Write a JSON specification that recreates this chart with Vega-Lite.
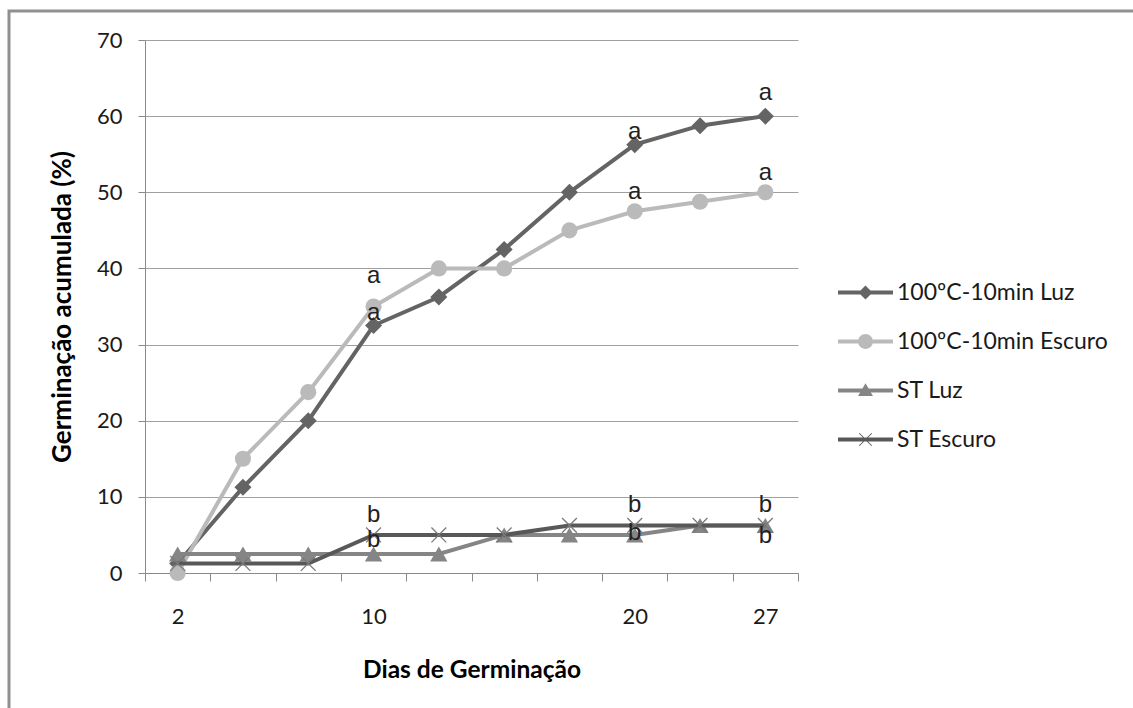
{
  "$schema": "https://vega.github.io/schema/vega-lite/v6.json",
  "usermeta": {"embedOptions": {"actions": false}},
  "autosize": {"type": "none"},
  "padding": {"left": 9, "top": 11, "right": 0, "bottom": 0},
  "width": 1124,
  "height": 697,
  "background": "white",
  "config": {
    "view": {"stroke": "#909090", "strokeWidth": 3, "strokeDash": [1124, 1821, 700]},
    "font": "Lato"
  },
  "data": {
    "values": [
      {"day": 2, "series": "100ºC-10min Luz", "value": 1.25, "label": ""},
      {"day": 4, "series": "100ºC-10min Luz", "value": 11.25, "label": ""},
      {"day": 7, "series": "100ºC-10min Luz", "value": 20, "label": ""},
      {"day": 10, "series": "100ºC-10min Luz", "value": 32.5, "label": "a"},
      {"day": 12, "series": "100ºC-10min Luz", "value": 36.25, "label": ""},
      {"day": 14, "series": "100ºC-10min Luz", "value": 42.5, "label": ""},
      {"day": 17, "series": "100ºC-10min Luz", "value": 50, "label": ""},
      {"day": 20, "series": "100ºC-10min Luz", "value": 56.25, "label": "a"},
      {"day": 24, "series": "100ºC-10min Luz", "value": 58.75, "label": ""},
      {"day": 27, "series": "100ºC-10min Luz", "value": 60, "label": "a"},
      {"day": 2, "series": "100ºC-10min Escuro", "value": 0, "label": ""},
      {"day": 4, "series": "100ºC-10min Escuro", "value": 15, "label": ""},
      {"day": 7, "series": "100ºC-10min Escuro", "value": 23.75, "label": ""},
      {"day": 10, "series": "100ºC-10min Escuro", "value": 35, "label": "a"},
      {"day": 12, "series": "100ºC-10min Escuro", "value": 40, "label": ""},
      {"day": 14, "series": "100ºC-10min Escuro", "value": 40, "label": ""},
      {"day": 17, "series": "100ºC-10min Escuro", "value": 45, "label": ""},
      {"day": 20, "series": "100ºC-10min Escuro", "value": 47.5, "label": "a"},
      {"day": 24, "series": "100ºC-10min Escuro", "value": 48.75, "label": ""},
      {"day": 27, "series": "100ºC-10min Escuro", "value": 50, "label": "a"},
      {"day": 2, "series": "ST Luz", "value": 2.5, "label": ""},
      {"day": 4, "series": "ST Luz", "value": 2.5, "label": ""},
      {"day": 7, "series": "ST Luz", "value": 2.5, "label": ""},
      {"day": 10, "series": "ST Luz", "value": 2.5, "label": "b"},
      {"day": 12, "series": "ST Luz", "value": 2.5, "label": ""},
      {"day": 14, "series": "ST Luz", "value": 5, "label": ""},
      {"day": 17, "series": "ST Luz", "value": 5, "label": ""},
      {"day": 20, "series": "ST Luz", "value": 5, "label": "b"},
      {"day": 24, "series": "ST Luz", "value": 6.25, "label": ""},
      {"day": 27, "series": "ST Luz", "value": 6.25, "label": "b"},
      {"day": 2, "series": "ST Escuro", "value": 1.25, "label": ""},
      {"day": 4, "series": "ST Escuro", "value": 1.25, "label": ""},
      {"day": 7, "series": "ST Escuro", "value": 1.25, "label": ""},
      {"day": 10, "series": "ST Escuro", "value": 5, "label": "b"},
      {"day": 12, "series": "ST Escuro", "value": 5, "label": ""},
      {"day": 14, "series": "ST Escuro", "value": 5, "label": ""},
      {"day": 17, "series": "ST Escuro", "value": 6.25, "label": ""},
      {"day": 20, "series": "ST Escuro", "value": 6.25, "label": "b"},
      {"day": 24, "series": "ST Escuro", "value": 6.25, "label": ""},
      {"day": 27, "series": "ST Escuro", "value": 6.25, "label": "b"}
    ]
  },
  "encoding": {
    "x": {
      "field": "day", "type": "ordinal",
      "scale": {"range": [136, 789], "paddingInner": 0, "paddingOuter": 0},
      "axis": {
        "orient": "bottom", "offset": -135,
        "tickBand": "extent", "grid": false,
        "domainColor": "#8a8a8a", "domainWidth": 1,
        "tickColor": "#8a8a8a", "tickSize": 8, "tickWidth": 1,
        "labelAngle": 0, "labelFont": "Lato", "labelFontSize": 22, "labelColor": "#1a1a1a",
        "labelBaseline": "alphabetic", "labelPadding": 42,
        "labelExpr": "indexof(['2','10','20','27'], datum.label) >= 0 ? datum.label : ''",
        "title": "Dias de Germinação", "titleFont": "Lato", "titleFontSize": 24.5, "titleFontWeight": "bold",
        "titleColor": "#000000", "titleBaseline": "alphabetic", "titleY": 104
      }
    },
    "y": {
      "field": "value", "type": "quantitative",
      "scale": {"domain": [0, 70], "range": [562, 29], "nice": false, "zero": true},
      "axis": {
        "orient": "left", "offset": -136,
        "values": [0, 10, 20, 30, 40, 50, 60, 70],
        "grid": true, "gridColor": "#a0a0a0", "gridWidth": 1,
        "domainColor": "#8a8a8a", "domainWidth": 1,
        "tickColor": "#8a8a8a", "tickSize": 7, "tickWidth": 1,
        "labelFont": "Lato", "labelFontSize": 22, "labelColor": "#1a1a1a", "labelPadding": 16,
        "title": "Germinação acumulada (%)", "titleFont": "Lato", "titleFontSize": 26, "titleFontWeight": "bold",
        "titleColor": "#000000", "titleBaseline": "alphabetic", "titleX": -75
      }
    }
  },
  "layer": [
    {
      "transform": [{"filter": "datum.series == '100ºC-10min Luz'"}],
      "mark": {"type": "line", "color": "#646464", "strokeWidth": 4,
        "point": {"shape": "diamond", "size": 290, "filled": true, "color": "#646464", "opacity": 1}}
    },
    {
      "transform": [{"filter": "datum.series == '100ºC-10min Escuro'"}],
      "mark": {"type": "line", "color": "#bababa", "strokeWidth": 4,
        "point": {"shape": "circle", "size": 260, "filled": true, "color": "#bababa", "opacity": 1}}
    },
    {
      "transform": [{"filter": "datum.series == 'ST Luz'"}],
      "mark": {"type": "line", "color": "#858585", "strokeWidth": 4,
        "point": {"shape": "triangle-up", "size": 300, "filled": true, "color": "#858585", "opacity": 1}}
    },
    {
      "transform": [{"filter": "datum.series == 'ST Escuro'"}],
      "mark": {"type": "line", "color": "#585858", "strokeWidth": 4,
        "point": {"shape": "M-1,-1L1,1M-1,1L1,-1", "size": 220, "filled": false, "color": "#7a7a7a", "strokeWidth": 1.3, "opacity": 1}}
    },
    {
      "transform": [{"filter": "datum.series == '100ºC-10min Luz' && (datum.day == 10 || datum.day == 20)"}],
      "mark": {"type": "text", "font": "Liberation Sans", "fontSize": 24, "color": "#222222", "baseline": "alphabetic", "dy": -6},
      "encoding": {"text": {"field": "label"}}
    },
    {
      "transform": [{"filter": "datum.series == '100ºC-10min Luz' && datum.day == 27"}],
      "mark": {"type": "text", "font": "Liberation Sans", "fontSize": 24, "color": "#222222", "baseline": "alphabetic", "dy": -16},
      "encoding": {"text": {"field": "label"}}
    },
    {
      "transform": [{"filter": "datum.series == '100ºC-10min Escuro' && datum.day == 10"}],
      "mark": {"type": "text", "font": "Liberation Sans", "fontSize": 24, "color": "#222222", "baseline": "alphabetic", "dy": -24},
      "encoding": {"text": {"field": "label"}}
    },
    {
      "transform": [{"filter": "datum.series == '100ºC-10min Escuro' && (datum.day == 20 || datum.day == 27)"}],
      "mark": {"type": "text", "font": "Liberation Sans", "fontSize": 24, "color": "#222222", "baseline": "alphabetic", "dy": -12.5},
      "encoding": {"text": {"field": "label"}}
    },
    {
      "transform": [{"filter": "datum.series == 'ST Escuro' && datum.label != ''"}],
      "mark": {"type": "text", "font": "Liberation Sans", "fontSize": 24, "color": "#222222", "baseline": "alphabetic", "dy": -13},
      "encoding": {"text": {"field": "label"}}
    },
    {
      "transform": [{"filter": "datum.series == 'ST Luz' && datum.day == 10"}],
      "mark": {"type": "text", "font": "Liberation Sans", "fontSize": 24, "color": "#222222", "baseline": "alphabetic", "dy": -7},
      "encoding": {"text": {"field": "label"}}
    },
    {
      "transform": [{"filter": "datum.series == 'ST Luz' && datum.day == 20"}],
      "mark": {"type": "text", "font": "Liberation Sans", "fontSize": 24, "color": "#222222", "baseline": "alphabetic", "dy": 5},
      "encoding": {"text": {"field": "label"}}
    },
    {
      "transform": [{"filter": "datum.series == 'ST Luz' && datum.day == 27"}],
      "mark": {"type": "text", "font": "Liberation Sans", "fontSize": 24, "color": "#222222", "baseline": "alphabetic", "dy": 18},
      "encoding": {"text": {"field": "label"}}
    },
    {
      "mark": {"type": "point", "filled": true, "opacity": 0},
      "encoding": {
        "color": {
          "field": "series", "type": "nominal",
          "scale": {"domain": ["100ºC-10min Luz", "100ºC-10min Escuro", "ST Luz", "ST Escuro"],
                    "range": ["#646464", "#bababa", "#858585", "#585858"]},
          "legend": {
            "orient": "none", "legendX": 829, "legendY": 254,
            "title": null, "padding": 0,
            "symbolSize": 3025, "symbolStrokeWidth": 0, "symbolOpacity": 1,
            "labelFont": "Lato", "labelFontSize": 23, "labelColor": "#1a1a1a", "labelOffset": 4, "labelLimit": 400,
            "rowPadding": 9,
            "encode": {
              "symbols": {"update": {
                "stroke": {"value": "transparent"},
                "opacity": {"value": 1}
              }}
            }
          }
        },
        "shape": {
          "field": "series", "type": "nominal",
          "scale": {"domain": ["100ºC-10min Luz", "100ºC-10min Escuro", "ST Luz", "ST Escuro"],
                    "range": [
                      "M-1,-0.073H1V0.073H-1ZM0,-0.255L0.255,0L0,0.255L-0.255,0Z",
                      "M-1,-0.073H1V0.073H-1ZM0.27,0A0.27,0.27 0 1 1 -0.27,0A0.27,0.27 0 1 1 0.27,0Z",
                      "M-1,-0.073H1V0.073H-1ZM0,-0.26L0.27,0.2L-0.27,0.2Z",
                      "M-1,-0.073H1V0.073H-1ZM-0.24,-0.215L-0.215,-0.24L0.24,0.215L0.215,0.24ZM0.24,-0.215L-0.215,0.24L-0.24,0.215L0.215,-0.24Z"
                    ]},
          "legend": {
            "orient": "none", "legendX": 829, "legendY": 254,
            "title": null, "padding": 0,
            "symbolSize": 3025, "symbolStrokeWidth": 0, "symbolOpacity": 1,
            "labelFont": "Lato", "labelFontSize": 23, "labelColor": "#1a1a1a", "labelOffset": 4, "labelLimit": 400,
            "rowPadding": 9,
            "encode": {
              "symbols": {"update": {
                "stroke": {"value": "transparent"},
                "opacity": {"value": 1}
              }}
            }
          }
        }
      }
    }
  ]
}
